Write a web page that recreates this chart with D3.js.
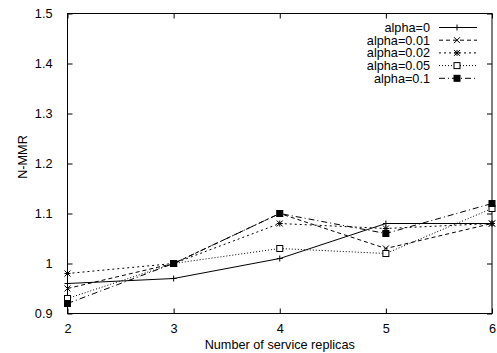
<!DOCTYPE html>
<html>
<head>
<meta charset="utf-8">
<script src="https://cdn.jsdelivr.net/npm/d3@7"></script>
<style>
  body { margin: 0; background: #fff; }
  text { font-family: "Liberation Sans", Arial, sans-serif; font-size: 12.7px; fill: #000; }
</style>
</head>
<body>
<svg id="chart" width="497" height="353"></svg>
<script>
const replicas = [2, 3, 4, 5, 6];
const seriesNames = ["alpha=0", "alpha=0.01", "alpha=0.02", "alpha=0.05", "alpha=0.1"];
const alpha0 = [0.96, 0.97, 1.01, 1.08, 1.08];
const alpha001 = [0.95, 1.00, 1.10, 1.03, 1.08];
const alpha002 = [0.98, 1.00, 1.08, 1.07, 1.08];
const alpha005 = [0.93, 1.00, 1.03, 1.02, 1.11];
const alpha01 = [0.92, 1.00, 1.10, 1.06, 1.12];
const yTicks = [0.9, 1, 1.1, 1.2, 1.3, 1.4, 1.5];

const allSeries = [alpha0, alpha001, alpha002, alpha005, alpha01];
const dashes = ["none", "4,3", "2,3", "1,2", "6,3,1,3"];
const markers = ["plus", "cross", "star", "boxOpen", "boxFilled"];

const width = 497, height = 353;
const margin = { left: 67.5, right: 5, top: 13.5, bottom: 39.5 };

const svg = d3.select("#chart");

const x = d3.scaleLinear().domain([2, 6]).range([margin.left, width - margin.right]);
const y = d3.scaleLinear().domain([0.9, 1.5]).range([height - margin.bottom, margin.top]);

const tickLen = 5;

/* ========== AXES ========== */
svg.append("g")
  .attr("transform", "translate(0," + y.range()[0] + ")")
  .call(d3.axisBottom(x).tickValues(replicas).tickSize(-tickLen).tickPadding(10).tickFormat(d3.format("d")))
  .call(g => g.select(".domain").remove());
svg.append("g")
  .attr("transform", "translate(0," + y.range()[1] + ")")
  .call(d3.axisTop(x).tickValues(replicas).tickSize(-tickLen).tickFormat(""))
  .call(g => g.select(".domain").remove());
svg.append("g")
  .attr("transform", "translate(" + x.range()[0] + ",0)")
  .call(d3.axisLeft(y).tickValues(yTicks).tickSize(-tickLen).tickPadding(15).tickFormat(d => d3.format("")(+d.toFixed(1))))
  .call(g => g.select(".domain").remove());
svg.append("g")
  .attr("transform", "translate(" + x.range()[1] + ",0)")
  .call(d3.axisRight(y).tickValues(yTicks).tickSize(-tickLen).tickFormat(""))
  .call(g => g.select(".domain").remove());

svg.selectAll(".tick line").attr("stroke", "#000");
svg.selectAll(".tick text").attr("fill", "#000").style("font-size", "12.7px")
  .style("font-family", "'Liberation Sans', Arial, sans-serif");

svg.append("rect")
  .attr("x", x.range()[0]).attr("y", y.range()[1])
  .attr("width", x.range()[1] - x.range()[0])
  .attr("height", y.range()[0] - y.range()[1])
  .attr("fill", "none").attr("stroke", "#000").attr("stroke-width", 1);

svg.append("text")
  .attr("x", (x.range()[0] + x.range()[1]) / 2)
  .attr("y", 349)
  .attr("text-anchor", "middle")
  .text("Number of service replicas");

svg.append("text")
  .attr("transform", "translate(27,157) rotate(-90)")
  .attr("text-anchor", "middle")
  .text("N-MMR");

/* ========== MARKERS ========== */
function drawMarker(g, type, cx, cy) {
  const s = 3;
  if (type === "plus") {
    g.append("path").attr("d", `M${cx - s},${cy}H${cx + s}M${cx},${cy - s}V${cy + s}`)
      .attr("stroke", "#000").attr("fill", "none");
  } else if (type === "cross") {
    g.append("path").attr("d", `M${cx - s},${cy - s}L${cx + s},${cy + s}M${cx - s},${cy + s}L${cx + s},${cy - s}`)
      .attr("stroke", "#000").attr("fill", "none");
  } else if (type === "star") {
    g.append("path").attr("d", `M${cx - s},${cy - s}L${cx + s},${cy + s}M${cx - s},${cy + s}L${cx + s},${cy - s}M${cx - s},${cy}H${cx + s}M${cx},${cy - s}V${cy + s}`)
      .attr("stroke", "#000").attr("fill", "none");
  } else if (type === "boxOpen") {
    g.append("rect").attr("x", cx - s).attr("y", cy - s).attr("width", 2 * s).attr("height", 2 * s)
      .attr("stroke", "#000").attr("fill", "#fff");
  } else if (type === "boxFilled") {
    g.append("rect").attr("x", cx - s).attr("y", cy - s).attr("width", 2 * s).attr("height", 2 * s)
      .attr("stroke", "#000").attr("fill", "#000");
  }
}

/* ========== LINES ========== */
const line = d3.line().x((d, i) => x(replicas[i])).y(d => y(d));

allSeries.forEach((vals, k) => {
  const g = svg.append("g");
  g.append("path")
    .attr("d", line(vals))
    .attr("fill", "none")
    .attr("stroke", "#000")
    .attr("stroke-width", 1)
    .attr("stroke-dasharray", dashes[k]);
  vals.forEach((v, i) => drawMarker(g, markers[k], x(replicas[i]), y(v)));
});

/* ========== LEGEND ========== */
const legend = svg.append("g");
seriesNames.forEach((name, k) => {
  const ly = 27.5 + k * 12.7;
  legend.append("text")
    .attr("x", 430).attr("y", ly).attr("dy", "0.35em")
    .attr("text-anchor", "end")
    .text(name);
  legend.append("line")
    .attr("x1", 439).attr("x2", 477).attr("y1", ly).attr("y2", ly)
    .attr("stroke", "#000").attr("stroke-dasharray", dashes[k]);
  drawMarker(legend, markers[k], 457, ly);
});
</script>
</body>
</html>
